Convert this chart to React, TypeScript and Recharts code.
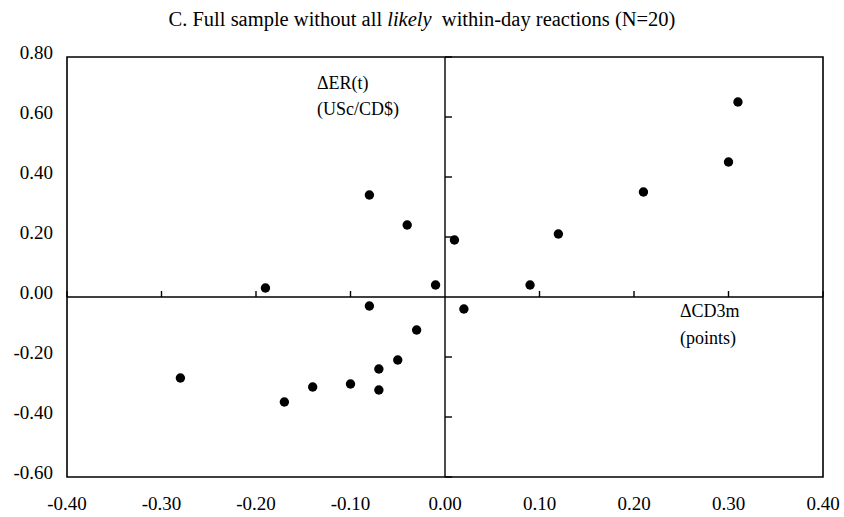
import React from "react"
import {
  ScatterChart,
  Scatter,
  XAxis,
  YAxis,
  ReferenceLine,
  ReferenceArea,
  ReferenceDot,
  Customized,
} from "recharts"

// change in 3-month rate (points) vs change in exchange rate (USc/CD$)
const cd3mChange = [
  -0.28, -0.19, -0.17, -0.14, -0.1, -0.08, -0.08, -0.07, -0.07, -0.05,
  -0.04, -0.03, -0.01, 0.01, 0.02, 0.09, 0.12, 0.21, 0.3, 0.31,
]
const erChange = [
  -0.27, 0.03, -0.35, -0.3, -0.29, 0.34, -0.03, -0.24, -0.31, -0.21,
  0.24, -0.11, 0.04, 0.19, -0.04, 0.04, 0.21, 0.35, 0.45, 0.65,
]

const xTicks = [-0.4, -0.3, -0.2, -0.1, 0, 0.1, 0.2, 0.3, 0.4]
const yTicks = [-0.6, -0.4, -0.2, 0, 0.2, 0.4, 0.6, 0.8]

const points = cd3mChange.map((x, i) => ({ x, y: erChange[i] }))

const FONT = '"Liberation Serif", "Times New Roman", serif'
const TICK_FONT = 19

const XTick = (props: any) => {
  const { x, y, payload } = props
  return (
    <text x={x} y={y} dy={31} textAnchor="middle" fontFamily={FONT} fontSize={TICK_FONT} fill="#000">
      {payload.value.toFixed(2)}
    </text>
  )
}

const YTick = (props: any) => {
  const { x, y, payload } = props
  return (
    <text x={x} y={y} dy={2} textAnchor="end" fontFamily={FONT} fontSize={TICK_FONT} fill="#000">
      {payload.value.toFixed(2)}
    </text>
  )
}

const Dot = (props: any) => <circle cx={props.cx} cy={props.cy} r={4.7} fill="#000" />

const Notes = () => (
  <g fontFamily={FONT} fontSize={18} fill="#000">
    <text x={317} y={89}>ΔER(t)</text>
    <text x={317} y={115}>(USc/CD$)</text>
    <text x={680} y={317}>ΔCD3m</text>
    <text x={680} y={344}>(points)</text>
  </g>
)

export default function App() {
  return (
    <div style={{ position: "relative", width: 844, height: 517, background: "#fff" }}>
      <style>{`body{margin:0}`}</style>
      <div
        style={{
          position: "absolute",
          top: 8,
          left: 0,
          width: 844,
          textAlign: "center",
          fontFamily: FONT,
          fontSize: 20.5,
          color: "#000",
          whiteSpace: "pre",
        }}
      >
        C. Full sample without all <i>likely</i>  within-day reactions (N=20)
      </div>
      <div style={{ position: "absolute", top: 0, left: 0 }}>
        <ScatterChart width={844} height={517} margin={{ top: 57, right: 21, left: 0, bottom: 0 }}>
          <XAxis
            type="number"
            dataKey="x"
            domain={[-0.4, 0.4]}
            ticks={xTicks}
            tick={<XTick />}
            tickLine={false}
            axisLine={false}
            tickSize={0}
            height={40}
            interval={0}
          />
          <YAxis
            type="number"
            dataKey="y"
            domain={[-0.6, 0.8]}
            ticks={yTicks}
            tick={<YTick />}
            tickLine={false}
            axisLine={false}
            tickSize={0}
            tickMargin={14}
            width={67}
            interval={0}
          />
          <ReferenceArea x1={-0.4} x2={0.4} y1={-0.6} y2={0.8} fill="none" stroke="#000" strokeWidth={1.6} />
          <ReferenceLine x={0} stroke="#000" strokeWidth={1.4} />
          <ReferenceLine y={0} stroke="#000" strokeWidth={1.4} />
          {xTicks
            .filter((t) => t !== 0)
            .map((t) => (
              <ReferenceDot
                key={`xt${t}`}
                x={t}
                y={0}
                shape={(p: any) => <line x1={p.cx} y1={p.cy} x2={p.cx} y2={p.cy - 6} stroke="#000" strokeWidth={1.4} />}
              />
            ))}
          {yTicks
            .filter((t) => t !== 0)
            .map((t) => (
              <ReferenceDot
                key={`yt${t}`}
                x={0}
                y={t}
                shape={(p: any) => <line x1={p.cx} y1={p.cy} x2={p.cx + 7} y2={p.cy} stroke="#000" strokeWidth={1.4} />}
              />
            ))}
          <Scatter data={points} shape={<Dot />} isAnimationActive={false} />
          <Customized component={<Notes />} />
        </ScatterChart>
      </div>
    </div>
  )
}
